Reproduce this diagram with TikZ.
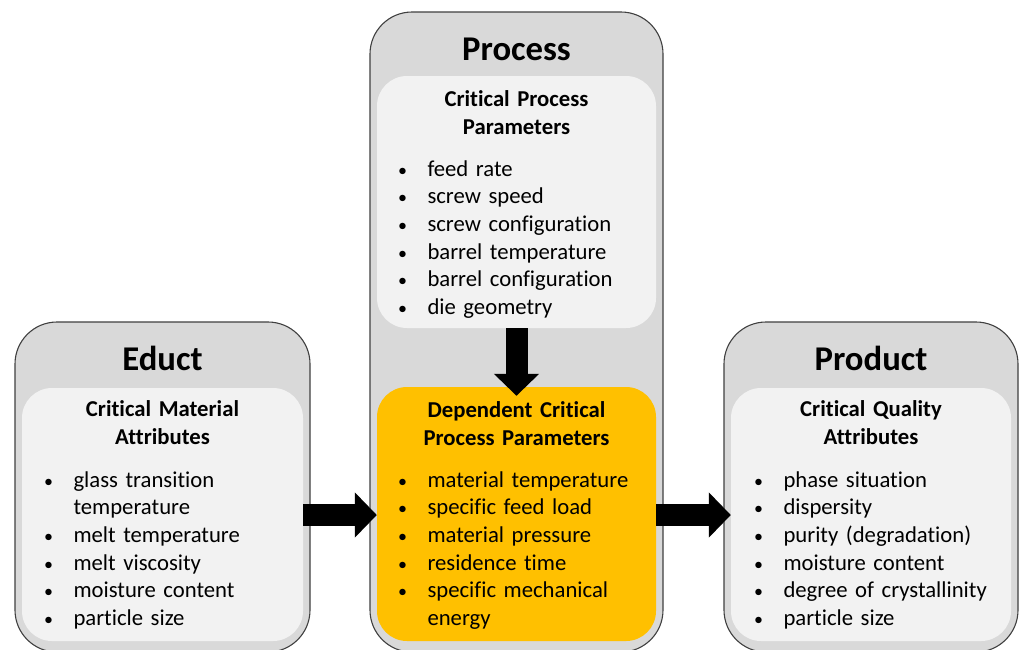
\documentclass[tikz,border=0pt]{standalone}
\usepackage{fontspec}
\setmainfont{Carlito}[Ligatures={NoCommon}]
\usetikzlibrary{arrows.meta,calc}
\definecolor{outerfill}{HTML}{D9D9D9}
\definecolor{outerdraw}{HTML}{404040}
\definecolor{innerfill}{HTML}{F2F2F2}
\definecolor{yellowfill}{HTML}{FFC000}
\newcommand\bl{\leavevmode\llap{\makebox[11pt]{\fontsize{18}{18}\selectfont •}\hspace{19.5pt}}}
\newcommand\ind{\leavevmode}
\tikzset{
  outerbox/.style={draw=outerdraw, line width=1.1pt, fill=outerfill, rounded corners=42pt, inner sep=0pt},
  innerbox/.style={fill=innerfill, rounded corners=30pt, inner sep=0pt},
  yellowbox/.style={fill=yellowfill, rounded corners=30pt, inner sep=0pt},
  titletext/.style={anchor=base, inner sep=0pt, font=\fontsize{34.7}{40}\selectfont\bfseries},
  headtext/.style={anchor=base, inner sep=0pt, text width=270pt, align=center, font=\fontsize{22.7}{28}\selectfont\bfseries},
  listtext/.style={anchor=base west, inner sep=0pt, text width=260pt, align=left, font=\fontsize{22.7}{27.7}\selectfont},
  blockarrow/.style={line width=22pt, line cap=butt, -{Triangle[width=44pt, length=22pt]}},
}
\begin{document}
\begin{tikzpicture}[x=1pt,y=-1pt]
\clip (0,0) rectangle (1020,649);
\fill[white] (0,0) rectangle (1020,649);
% boxes
\node[outerbox, minimum width=295pt, minimum height=330pt] (educt) at (162.5,487) {};
\node[outerbox, minimum width=293pt, minimum height=640pt] (process) at (516.5,332) {};
\node[outerbox, minimum width=294pt, minimum height=330pt] (product) at (871,487) {};
\node[innerbox, minimum width=281pt, minimum height=253pt] (eductin) at (162.5,514.5) {};
\node[innerbox, minimum width=279pt, minimum height=252pt] (cpp) at (516.5,202) {};
\node[yellowbox, minimum width=279pt, minimum height=254pt] (dcpp) at (516.5,514) {};
\node[innerbox, minimum width=280pt, minimum height=253pt] (productin) at (871,514.5) {};
% titles
\node[titletext] (tEduct) at (162.5,370) {Educt};
\node[titletext] (tProcess) at (516.5,60) {Process};
\node[titletext] (tProduct) at (871,370) {Product};
% headings
\node[headtext] (hEduct) at (162.5,416) {Critical Material\\Attributes};
\node[headtext] (hCpp) at (516.5,106) {Critical Process\\Parameters};
\node[headtext] (hDcpp) at (516.5,417) {Dependent Critical\\Process Parameters};
\node[headtext] (hProduct) at (871,416) {Critical Quality\\Attributes};
% lists
\node[listtext] (lEduct) at (73.3,487) {\bl glass transition\\\ind temperature\\\bl melt temperature\\\bl melt viscosity\\\bl moisture content\\\bl particle size};
\node[listtext] (lCpp) at (427.3,176) {\bl feed rate\\\bl screw speed\\\bl screw configuration\\\bl barrel temperature\\\bl barrel configuration\\\bl die geometry};
\node[listtext] (lDcpp) at (427.3,487) {\bl material temperature\\\bl specific feed load\\\bl material pressure\\\bl residence time\\\bl specific mechanical\\\ind energy};
\node[listtext] (lProduct) at (783.3,487) {\bl phase situation\\\bl dispersity\\\bl purity (degradation)\\\bl moisture content\\\bl degree of crystallinity\\\bl particle size};
% arrows
\draw[blockarrow] (eductin.east |- 0,515) -- (dcpp.west |- 0,515);
\draw[blockarrow] (dcpp.east |- 0,515) -- (productin.west |- 0,515);
\draw[blockarrow] (cpp.south) -- ($(dcpp.north)+(0,9)$);
\end{tikzpicture}
\end{document}
